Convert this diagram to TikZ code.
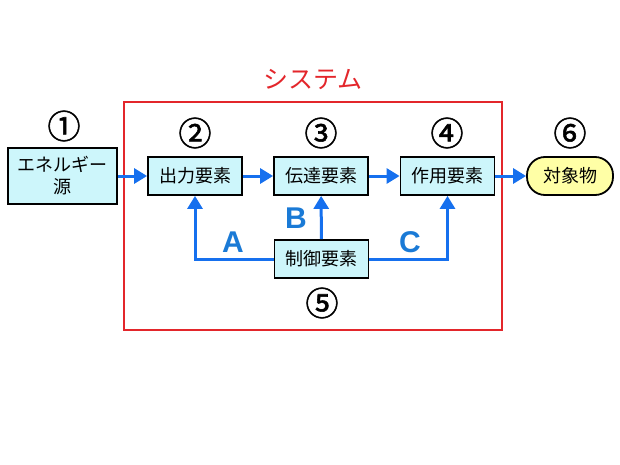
\documentclass[tikz,border=0pt]{standalone}
\usepackage{fontspec}
\setmainfont{Noto Sans CJK JP}[AutoFakeBold=1.6]
\newfontfamily\latinfont{Liberation Sans}
\usepackage{tikz}
\usetikzlibrary{arrows.meta}
\definecolor{frame}{HTML}{E3262B}
\definecolor{flowblue}{HTML}{1670EE}
\definecolor{labblue}{HTML}{1A7AD6}
\definecolor{boxfill}{HTML}{CDF6FB}
\definecolor{objfill}{HTML}{FFFFA6}
\tikzset{
  elem/.style={draw=black, fill=boxfill, line width=1.8pt, minimum width=94pt, minimum height=38pt,
    inner sep=0pt, font=\fontsize{18}{22}\selectfont},
  target/.style={elem, fill=objfill, minimum width=86pt, rounded corners=18pt},
  flow/.style={draw=flowblue, line width=3pt, -{Triangle[length=13pt,width=15pt]}},
  num/.style={font=\bfseries\fontsize{33}{34}\selectfont},
  lab/.style={text=labblue, font=\latinfont\bfseries\fontsize{30}{31}\selectfont},
}

\begin{document}
\begin{tikzpicture}[x=1pt,y=-1pt]
  \useasboundingbox (0,0) rectangle (620,465);

  % system frame
  \draw[frame, line width=2pt] (124,102) rectangle (502,330);
  \node[text=frame, font=\fontsize{25}{26}\selectfont] (sys) at (313,80) {システム};

  % elements
  \node[elem, minimum width=109pt, minimum height=56pt, align=center] (src) at (62.5,176) {エネルギー\\源};
  \node[elem] (out) at (195,176) {出力要素};
  \node[elem] (trans) at (321,176) {伝達要素};
  \node[elem] (act) at (447.5,176) {作用要素};
  \node[target] (obj) at (570,176) {対象物};
  \node[elem] (ctrl) at (321.5,259) {制御要素};

  % numbers
  \node[num] (n1) at (64,126) {①};
  \node[num] (n2) at (195,133) {②};
  \node[num] (n3) at (321,133) {③};
  \node[num] (n4) at (447,133) {④};
  \node[num] (n5) at (322,303) {⑤};
  \node[num] (n6) at (570,133) {⑥};

  % flows
  \draw[flow] (src) -- (out);
  \draw[flow] (out) -- (trans);
  \draw[flow] (trans) -- (act);
  \draw[flow] (act) -- (obj);
  \draw[flow] (ctrl.west) -| (out.south);
  \draw[flow] (ctrl) -- (trans);
  \draw[flow] (ctrl.east) -| (act.south);

  \node[lab] (la) at (233,242) {A};
  \node[lab] (lb) at (296,218) {B};
  \node[lab] (lc) at (410,242) {C};
\end{tikzpicture}
\end{document}
